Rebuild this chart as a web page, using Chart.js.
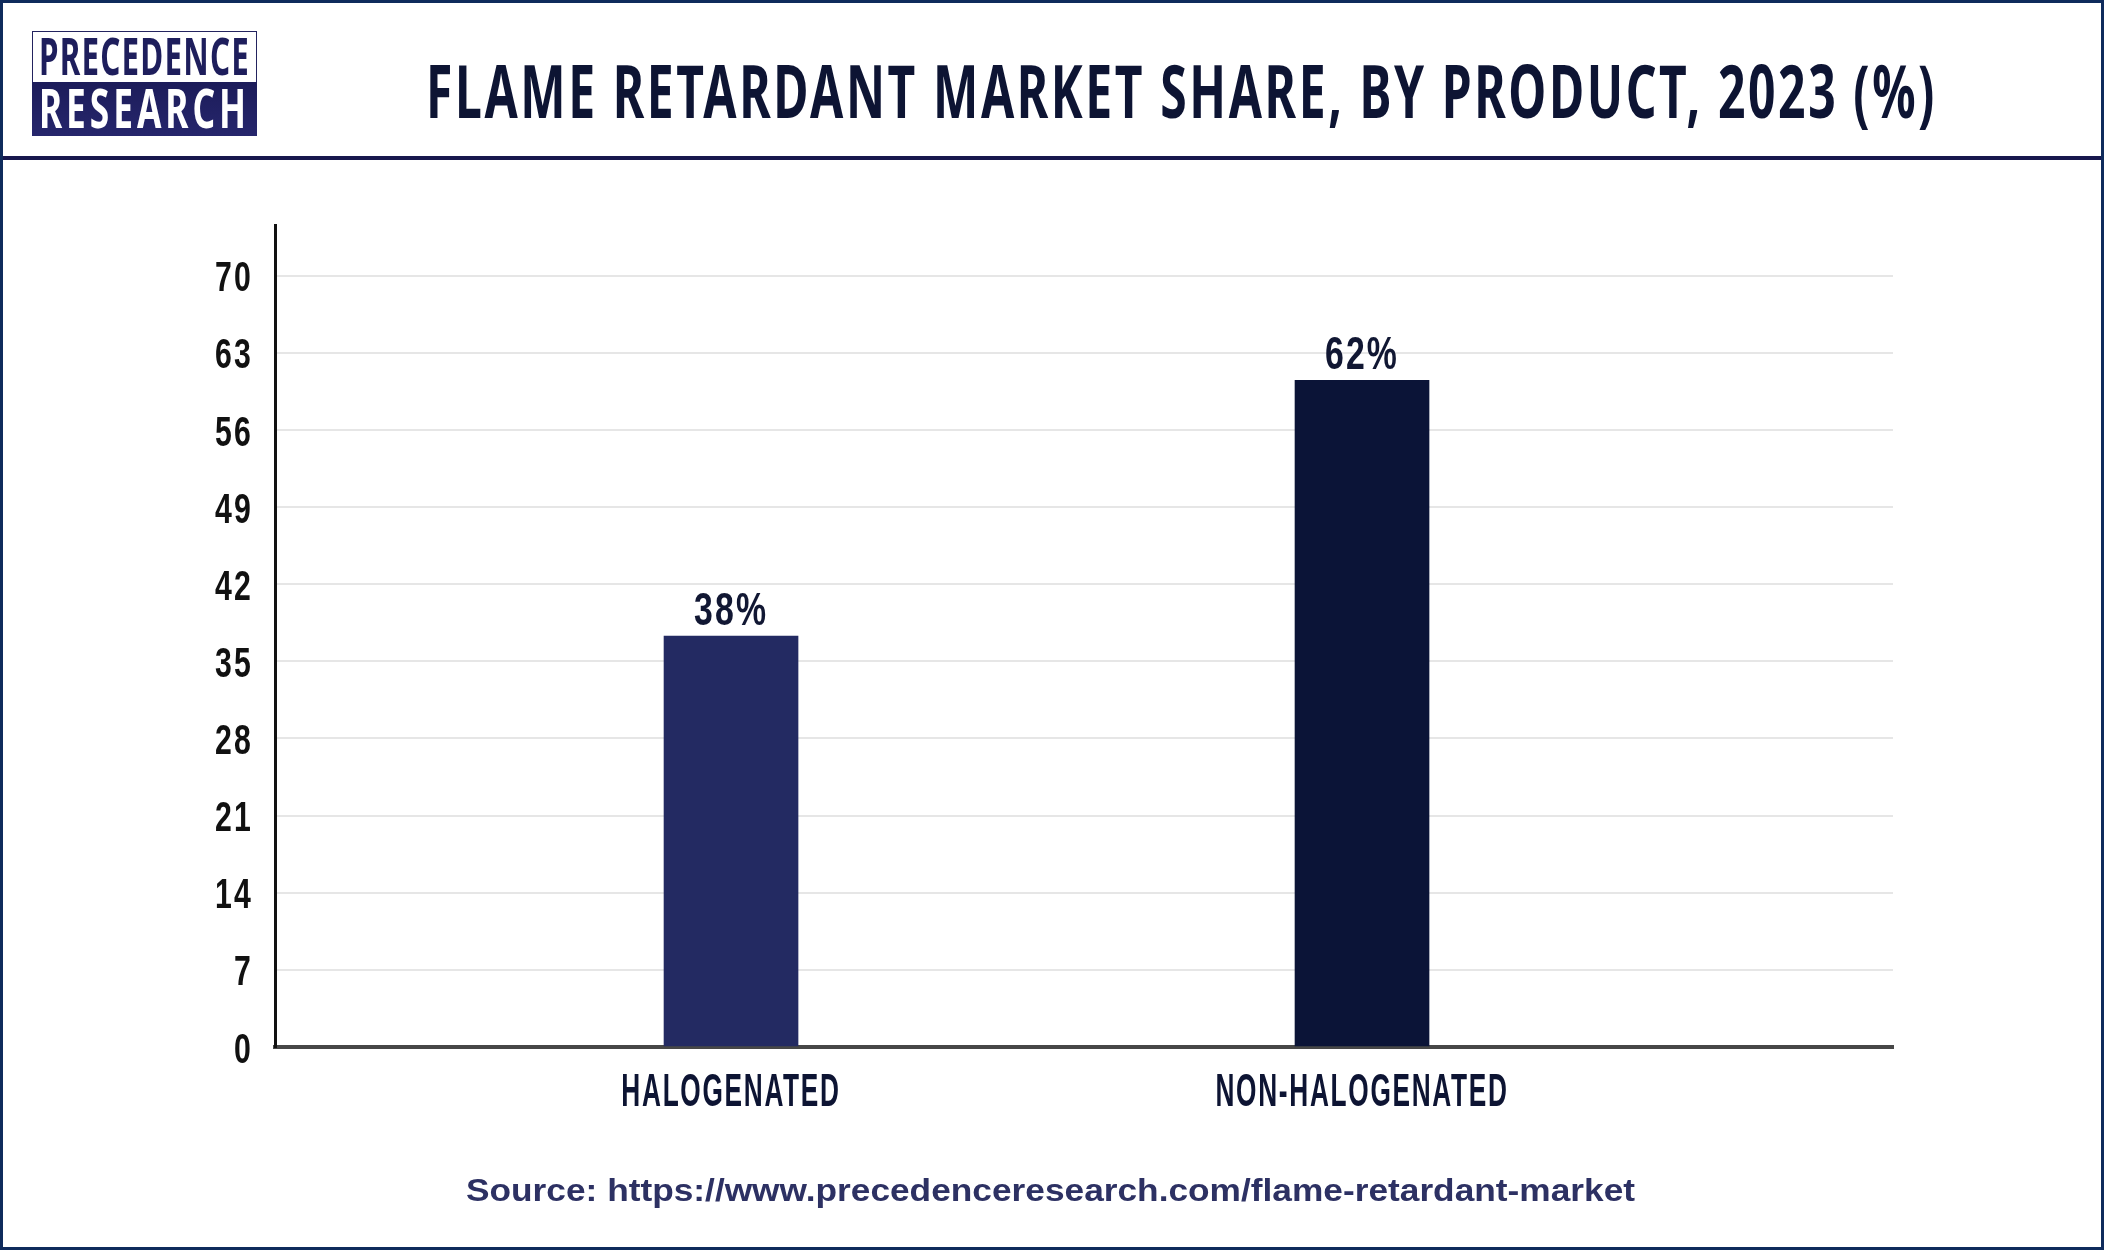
<!DOCTYPE html>
<html>
<head>
<meta charset="utf-8">
<title>Flame Retardant Market Share, by Product, 2023 (%)</title>
<script src="https://cdn.jsdelivr.net/npm/chart.js@4.4.0/dist/chart.umd.min.js"></script>
<style>
  body { margin: 0; background: #fff; }
  #page { position: relative; width: 2104px; height: 1250px; overflow: hidden; background: #fff; }
  #chart { position: absolute; left: 0; top: 0; }
  #frame { position: absolute; left: 0; top: 0; width: 2104px; height: 1250px; box-sizing: border-box; border: 3px solid #0f2b5c; pointer-events: none; }
  #headerLine { position: absolute; left: 0; top: 156px; width: 2104px; height: 4px; background: #17174d; }
  .fit { position: absolute; white-space: nowrap; line-height: 1; transform-origin: 0 0; display: inline-block; }
  .narrow { font-family: "Noto Sans", "DejaVu Sans Condensed", sans-serif; font-weight: bold; }
  #logo { position: absolute; left: 32px; top: 31px; width: 225px; height: 105px; box-sizing: border-box; border: 1px solid #23235f; background: #fff; }
  #logoBottom { position: absolute; left: 32px; top: 82px; width: 225px; height: 54px; background: linear-gradient(180deg, #1c1c5a, #26266c); }
  #title { color: #0d1433; font-size: 74px; letter-spacing: 4px; }
  #source { font-family: "Liberation Sans", Arial, sans-serif; font-weight: bold; font-size: 31px; color: #2d3163; }
</style>
</head>
<body>
<div id="page">
  <canvas id="chart" width="2104" height="1250"></canvas>
  <div id="logo"></div>
  <div id="logoBottom"></div>
  <span class="fit narrow" id="logoTop" style="left:39px; top:29px; font-size:52px; color:#1e1e5c; letter-spacing:2px;" data-w="211">PRECEDENCE</span>
  <span class="fit narrow" id="logoLow" style="left:39px; top:80px; font-size:54px; color:#fff; letter-spacing:6px;" data-w="211">RESEARCH</span>
  <span class="fit narrow" id="title" style="left:426px; top:53px;" data-w="1511">FLAME RETARDANT MARKET SHARE, BY PRODUCT, 2023 (%)</span>
  <div id="headerLine"></div>
  <span class="fit" id="source" style="left:466px; top:1175px;" data-w="1169">Source: https://www.precedenceresearch.com/flame-retardant-market</span>
  <div id="frame"></div>
</div>
<script>
const categories = ["HALOGENATED", "NON-HALOGENATED"];
const barHeights = [37.3, 60.5];
const shareLabels = ["38%", "62%"];
const barColors = ["#232a62", "#0b1437"];
const yTicks = [0, 7, 14, 21, 28, 35, 42, 49, 56, 63, 70];

const chartFont = "'Liberation Sans', Arial, sans-serif";
// the picture uses a tall condensed face; squeeze the canvas text to match
const numberStretch = 0.72;
const labelStretch = 0.57;

// stretch the html text blocks to the widths they have in the picture
document.querySelectorAll(".fit[data-w]").forEach((el) => {
    const natural = el.getBoundingClientRect().width;
    el.style.transform = `scaleX(${el.dataset.w / natural})`;
});

const narrowText = {
    id: "narrowText",
    beforeDraw(chart) {
        const ctx = chart.ctx;
        if (!ctx.plainFillText) ctx.plainFillText = ctx.fillText;
        ctx.letterSpacing = "3px";
        ctx.fillText = function (text, x, y) {
            const sx = /^[0-9%]+$/.test(String(text)) ? numberStretch : labelStretch;
            const dy = this.textBaseline === "middle" ? 4 : 0;
            this.save();
            this.translate(x, y + dy);
            this.scale(sx, 1);
            this.plainFillText(text, 0, 0);
            this.restore();
        };
    },
    afterDraw(chart) {
        chart.ctx.fillText = chart.ctx.plainFillText;
    }
};

const shareLabelPlugin = {
    id: "shareLabels",
    afterDatasetsDraw(chart) {
        const ctx = chart.ctx;
        const meta = chart.getDatasetMeta(0);
        ctx.save();
        ctx.font = `bold 47px ${chartFont}`;
        ctx.fillStyle = "#111733";
        ctx.textAlign = "center";
        ctx.textBaseline = "alphabetic";
        meta.data.forEach((bar, i) => {
            ctx.fillText(shareLabels[i], bar.x, bar.y - 11);
        });
        ctx.restore();
    }
};

const data = {
    datasets: [{
        data: categories.map((c, i) => ({ x: i, y: barHeights[i] })),
        backgroundColor: barColors,
        barThickness: 134,
        borderWidth: 0
    }]
};

const config = {
    type: "bar",
    data,
    plugins: [narrowText, shareLabelPlugin],
    options: {
        responsive: false,
        animation: false,
        devicePixelRatio: 1,
        layout: { padding: { top: 225, right: 211, left: 0, bottom: 0 } },
        plugins: { legend: { display: false }, tooltip: { enabled: false } },
        scales: {
            x: {
                type: "linear",
                offset: false,
                min: -0.7227,
                max: 1.8415,
                afterBuildTicks: (scale) => { scale.ticks = categories.map((c, i) => ({ value: i })); },
                afterFit: (scale) => { scale.height = 203; },
                grid: { display: false, drawTicks: false },
                border: { display: true, color: "#474747", width: 4 },
                ticks: {
                    autoSkip: false,
                    maxRotation: 0,
                    padding: 15,
                    color: "#0d1433",
                    font: { family: chartFont, weight: "bold", size: 46 },
                    callback: (value) => categories[value]
                }
            },
            y: {
                min: 0,
                max: 74.6,
                afterBuildTicks: (scale) => { scale.ticks = yTicks.map((v) => ({ value: v })); },
                afterFit: (scale) => { scale.width = 275; },
                grid: { color: "#e6e6e6", lineWidth: 2, drawTicks: false },
                border: { display: true, color: "#111111", width: 3 },
                ticks: {
                    padding: 22,
                    color: "#111111",
                    font: { family: chartFont, weight: "bold", size: 42 }
                }
            }
        }
    }
};

new Chart(document.getElementById("chart"), config);
</script>
</body>
</html>
